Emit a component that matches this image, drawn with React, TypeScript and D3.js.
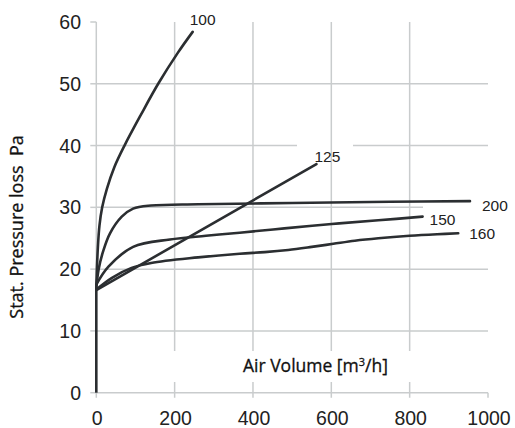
import React from "react";
import * as d3 from "d3";

const xTicks = [0, 200, 400, 600, 800, 1000];
const yTicks = [0, 10, 20, 30, 40, 50, 60];

const curve100: [number, number][] = [[0, 17], [1.5, 20], [4, 23.5], [8, 27], [15, 30], [27, 33], [46, 36.5], [72, 40], [114, 45], [158, 50], [208, 55], [246, 58.4]];
const curve125: [number, number][] = [[0, 16.6], [562, 37]];
const curve150: [number, number][] = [[0, 17.5], [31, 20.4], [94, 23.6], [188, 24.8], [280, 25.4], [366, 25.9], [480, 26.6], [601, 27.3], [720, 27.9], [833, 28.5]];
const curve160: [number, number][] = [[0, 16.7], [40, 18.6], [90, 20.2], [140, 21], [260, 21.9], [366, 22.5], [430, 22.75], [490, 23.1], [550, 23.6], [605, 24.1], [660, 24.6], [720, 25.0], [800, 25.4], [870, 25.65], [924, 25.8]];
const curve200: [number, number][] = [[0, 17], [6, 20], [18, 23], [35, 25.8], [65, 28.5], [94, 29.8], [140, 30.3], [260, 30.5], [500, 30.7], [750, 30.9], [954, 31.0]];
const baseSegment: [number, number][] = [[0, 0], [0, 17]];

const seriesNames = ["100", "125", "150", "160", "200"];
const seriesData = [curve100, curve125, curve150, curve160, curve200];
const labelOffsets: [number, number][] = [[-3, -7], [-2, -2], [7, 8], [11, 6], [12, 10]];

export default function App() {
  const W = 515, H = 428;
  const x = d3.scaleLinear().domain([0, 1000]).range([96.3, 488]);
  const y = d3.scaleLinear().domain([0, 60]).range([392.7, 22]);
  const line = d3.line<[number, number]>().x(d => x(d[0])).y(d => y(d[1])).curve(d3.curveCatmullRom.alpha(0.5));
  const straight = d3.line<[number, number]>().x(d => x(d[0])).y(d => y(d[1]));
  const grid = "#c9cccd";
  const ink = "#2b2e31";
  const numFont = "'Liberation Sans', Arial, sans-serif";
  const titleFont = "'Open Sans', 'Noto Sans', sans-serif";

  return (
    <svg width={W} height={H} style={{ position: "absolute", left: 0, top: 0, background: "#fff" }}>
      {yTicks.filter(t => t > 0 && t < 60).map(t => (
        <line key={"h" + t} x1={x(0)} x2={x(1000)} y1={y(t)} y2={y(t)} stroke={grid} strokeWidth={1.5} />
      ))}
      <rect x={297} y={y(40) - 3} width={56} height={6} fill="#fff" />
      <rect x={423} y={y(30) - 3} width={66} height={6} fill="#fff" />
      {xTicks.filter(t => t > 0 && t < 1000).map(t => (
        <line key={"v" + t} x1={x(t)} x2={x(t)} y1={y(60)} y2={y(0) + 5} stroke={grid} strokeWidth={1.5} />
      ))}
      <line x1={x(0)} x2={x(0)} y1={y(60)} y2={y(0) + 5} stroke={grid} strokeWidth={1.5} />
      <line x1={x(0)} x2={x(1000)} y1={y(0)} y2={y(0)} stroke={grid} strokeWidth={1.5} />
      <line x1={x(1000)} x2={x(1000)} y1={y(0)} y2={y(0) + 5} stroke={grid} strokeWidth={1.5} />
      {yTicks.map(t => (
        <line key={"yt" + t} x1={x(0) - 6} x2={x(0)} y1={y(t)} y2={y(t)} stroke={grid} strokeWidth={1.5} />
      ))}
      <rect x={168} y={351} width={248} height={31} fill="#fff" />
      {yTicks.map(t => (
        <text key={"yl" + t} x={81} y={y(t)} dy="0.36em" textAnchor="end" fontFamily={numFont} fontSize={19.5} fill="#222">{t}</text>
      ))}
      {xTicks.map(t => (
        <text key={"xl" + t} x={x(t) + 1} y={425} textAnchor="middle" fontFamily={numFont} fontSize={19.5} fill="#222">{t}</text>
      ))}
      <path d={straight(baseSegment) || ""} fill="none" stroke={ink} strokeWidth={2.6} />
      {seriesData.map((s, i) => (
        <path key={"c" + i} d={line(s) || ""} fill="none" stroke={ink} strokeWidth={2.6} strokeLinecap="round" />
      ))}
      {seriesData.map((s, i) => {
        const e = s[s.length - 1];
        return (
          <text key={"cl" + i} x={x(e[0]) + labelOffsets[i][0]} y={y(e[1]) + labelOffsets[i][1]} fontFamily={numFont} fontSize={15.5} fill="#222">{seriesNames[i]}</text>
        );
      })}
      <text x={243} y={372} fontFamily={titleFont} fontSize={17.5} fill="#111" stroke="#111" strokeWidth={0.3}>Air Volume [m<tspan dy={-6} fontSize={11}>3</tspan><tspan dy={6}>/h]</tspan></text>
      <text transform="translate(23,227) rotate(-90)" textAnchor="middle" fontFamily={titleFont} fontSize={18} fill="#111" stroke="#111" strokeWidth={0.3} xmlSpace="preserve">Stat. Pressure loss  Pa</text>
    </svg>
  );
}
